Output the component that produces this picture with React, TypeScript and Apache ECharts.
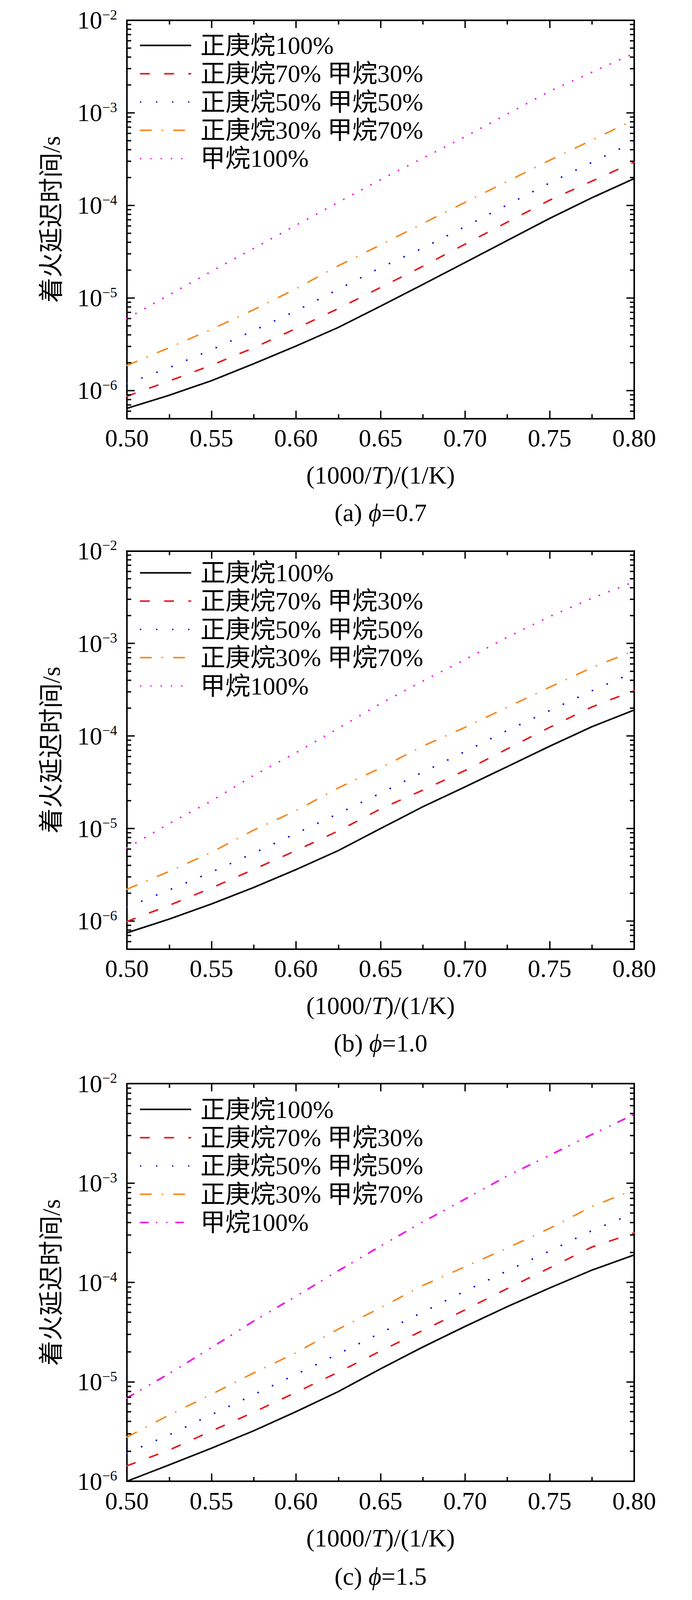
import React, { useEffect, useRef } from 'react';
import * as echarts from 'echarts';

// ---------------- data ----------------
const X13 = [0.5, 0.525, 0.55, 0.575, 0.6, 0.625, 0.65, 0.675, 0.7, 0.725, 0.75, 0.775, 0.8];
const X_A11 = [0.5, 0.525, 0.55, 0.575, 0.6, 0.625, 0.65, 0.675, 0.7, 0.75, 0.8];
const X_A_MET = [0.5, 0.525, 0.55, 0.575, 0.6, 0.625, 0.65, 0.7, 0.75, 0.8];

const SERIES_NAMES = ['正庚烷100%', '正庚烷70% 甲烷30%', '正庚烷50% 甲烷50%', '正庚烷30% 甲烷70%', '甲烷100%'];
const PANEL_KEYS = ['a', 'b', 'c'];
const PHI_VALUES = ['0.7', '1.0', '1.5'];

const X_MIN = 0.5;
const X_MAX = 0.8;
const X_INTERVAL = 0.05;
const Y_MINS = [5e-7, 5e-7, 1e-6];
const Y_MAX = 1e-2;

// panel (a) phi = 0.7
const A_HEP100 = [6.43e-7, 8.9e-7, 1.28e-6, 1.95e-6, 3.03e-6, 4.81e-6, 8.17e-6, 1.4e-5, 2.42e-5, 4.19e-5, 7.24e-5, 1.21e-4, 1.95e-4];
const A_HEP70 = [8.7e-7, 1.27e-6, 1.88e-6, 2.9e-6, 4.68e-6, 7.69e-6, 1.3e-5, 2.2e-5, 3.82e-5, 1.14e-4, 2.94e-4];
const A_HEP50 = [1.19e-6, 1.77e-6, 2.76e-6, 4.45e-6, 7.26e-6, 1.24e-5, 2.13e-5, 3.46e-5, 5.9e-5, 1.75e-4, 4.86e-4];
const A_HEP30 = [1.87e-6, 2.91e-6, 4.59e-6, 7.48e-6, 1.26e-5, 2.23e-5, 3.75e-5, 6.39e-5, 1.08e-4, 3.07e-4, 8.4e-4];
const A_MET100 = [6.01e-6, 1.08e-5, 1.94e-5, 3.44e-5, 6.11e-5, 1.08e-4, 1.9e-4, 5.52e-4, 1.71e-3, 4.4e-3];

// panel (b) phi = 1.0
const B_HEP100 = [7.47e-7, 1.05e-6, 1.53e-6, 2.31e-6, 3.6e-6, 5.78e-6, 1.0e-5, 1.72e-5, 2.82e-5, 4.67e-5, 7.75e-5, 1.26e-4, 1.91e-4];
const B_HEP70 = [9.9e-7, 1.48e-6, 2.28e-6, 3.62e-6, 5.78e-6, 9.42e-6, 1.63e-5, 2.6e-5, 4.24e-5, 7.27e-5, 1.24e-4, 2.06e-4, 3.1e-4];
const B_HEP50 = [1.41e-6, 2.17e-6, 3.38e-6, 5.43e-6, 8.85e-6, 1.45e-5, 2.41e-5, 4.07e-5, 6.8e-5, 1.15e-4, 1.88e-4, 3.08e-4, 4.89e-4];
const B_HEP30 = [2.21e-6, 3.44e-6, 5.54e-6, 9.62e-6, 1.56e-5, 2.75e-5, 4.51e-5, 7.78e-5, 1.24e-4, 2.05e-4, 3.37e-4, 5.48e-4, 8.37e-4];
const B_MET100 = [6.17e-6, 1.13e-5, 1.99e-5, 3.75e-5, 6.6e-5, 1.21e-4, 2.24e-4, 3.92e-4, 6.71e-4, 1.17e-3, 1.95e-3, 3.08e-3, 4.64e-3];

// panel (c) phi = 1.5
const C_HEP100 = [1.0e-6, 1.46e-6, 2.15e-6, 3.22e-6, 5.01e-6, 7.98e-6, 1.35e-5, 2.24e-5, 3.61e-5, 5.71e-5, 8.79e-5, 1.33e-4, 1.89e-4];
const C_HEP70 = [1.43e-6, 2.06e-6, 3.2e-6, 4.95e-6, 7.84e-6, 1.25e-5, 2.04e-5, 3.29e-5, 5.3e-5, 8.69e-5, 1.4e-4, 2.27e-4, 3.15e-4];
const C_HEP50 = [1.92e-6, 2.93e-6, 4.67e-6, 7.43e-6, 1.19e-5, 1.91e-5, 3.1e-5, 5.03e-5, 8.19e-5, 1.31e-4, 2.07e-4, 3.32e-4, 4.98e-4];
const C_HEP30 = [2.78e-6, 4.64e-6, 7.48e-6, 1.23e-5, 1.96e-5, 3.39e-5, 5.56e-5, 9.32e-5, 1.44e-4, 2.22e-4, 3.5e-4, 5.81e-4, 8.55e-4];
const C_MET100 = [6.89e-6, 1.21e-5, 2.21e-5, 4.09e-5, 7.25e-5, 1.31e-4, 2.32e-4, 4.06e-4, 6.89e-4, 1.18e-3, 1.9e-3, 3.08e-3, 4.9e-3];

const PANELS = [
  [[X13, A_HEP100], [X_A11, A_HEP70], [X_A11, A_HEP50], [X_A11, A_HEP30], [X_A_MET, A_MET100]],
  [[X13, B_HEP100], [X13, B_HEP70], [X13, B_HEP50], [X13, B_HEP30], [X13, B_MET100]],
  [[X13, C_HEP100], [X13, C_HEP70], [X13, C_HEP50], [X13, C_HEP30], [X13, C_MET100]],
];

// ---------------- layout & styles ----------------
const FONT = "'Liberation Serif', 'Times New Roman', 'Noto Sans CJK SC', serif";
const GRID_LEFT = 325;
const GRID_WIDTH = 1299;
const GRID_TOPS = [51.8, 1410.3, 2774];
const GRID_HEIGHTS = [1019.5, 1019, 1018];
const LEGEND_TOPS = [84.3, 1434.4, 2808];
const CAPTION_YS = [1312.8, 2670.3, 4035.8];

const COLORS = ['#000000', '#e6191e', '#0f14dc', '#f7891f', '#f01ee6'];
const WIDTHS = [4, 4, 4.5, 4, 4.5];
const DASHES: any[] = ['solid', [22, 40], [0.1, 41], [27, 28.5, 0.1, 29.5], [0.1, 26.3]];
const DASH_MET_C = [19, 22, 0.1, 26, 0.1, 23];

function minorValues(min: number, max: number): number[] {
  const out: number[] = [];
  const e0 = Math.floor(Math.log10(min));
  const e1 = Math.floor(Math.log10(max));
  for (let e = e0; e <= e1; e++) {
    for (let k = 2; k <= 9; k++) {
      const v = k * Math.pow(10, e);
      if (v > min * 1.0001 && v < max * 0.9999) out.push(v);
    }
  }
  return out;
}

function yLabel(v: number): string {
  const e = Math.log10(v);
  const r = Math.round(e);
  if (Math.abs(e - r) > 1e-6) return '';
  return `{b|10}{s|\u2212${-r}}`;
}

function buildOption() {
  const grid: any[] = [];
  const xAxis: any[] = [];
  const yAxis: any[] = [];
  const series: any[] = [];
  const legend: any[] = [];
  const graphic: any[] = [];

  const tickStyle = { color: '#000', width: 3.5 };
  const axisLine = { show: true, onZero: false, lineStyle: { color: '#000', width: 4 } };

  PANEL_KEYS.forEach((key, p) => {
    grid.push({ left: GRID_LEFT, top: GRID_TOPS[p], width: GRID_WIDTH, height: GRID_HEIGHTS[p], containLabel: false });

    const xBase = {
      type: 'value', gridIndex: p, min: X_MIN, max: X_MAX, interval: X_INTERVAL,
      axisLine, splitLine: { show: false },
      axisTick: { show: true, inside: true, length: 20, lineStyle: tickStyle },
      minorTick: { show: true, splitNumber: 2, length: 11, lineStyle: tickStyle },
      minorSplitLine: { show: false },
    };
    xAxis.push({
      ...xBase, position: 'bottom',
      axisLabel: { show: true, margin: 18, color: '#000', fontSize: 64, fontFamily: FONT, formatter: (v: number) => v.toFixed(2) },
      name: '{n|(1000/}{i|T}{n|)/(1/K)}',
      nameLocation: 'middle', nameGap: 113,
      nameTextStyle: {
        color: '#000', fontSize: 64, fontFamily: FONT,
        rich: {
          n: { fontSize: 64, fontFamily: FONT, color: '#000' },
          i: { fontSize: 64, fontFamily: FONT, fontStyle: 'italic', color: '#000' },
        },
      },
    });
    xAxis.push({ ...xBase, position: 'top', axisLabel: { show: false } });

    const yBase = {
      type: 'log', logBase: 10, gridIndex: p, min: Y_MINS[p], max: Y_MAX,
      axisLine, splitLine: { show: false },
      axisTick: { show: true, inside: true, length: 20, lineStyle: tickStyle },
    };
    yAxis.push({
      ...yBase, position: 'left',
      axisLabel: {
        show: true, margin: 25, color: '#000', formatter: yLabel, showMaxLabel: true,
        rich: {
          b: { fontSize: 64, lineHeight: 64, fontFamily: FONT, color: '#000' },
          s: { fontSize: 36, lineHeight: 36, fontFamily: FONT, color: '#000', verticalAlign: 'top' },
        },
      },
      name: '着火延迟时间/s', nameLocation: 'middle', nameGap: 162, nameRotate: 90,
      nameTextStyle: { color: '#000', fontSize: 64, fontFamily: FONT },
    });
    yAxis.push({ ...yBase, position: 'right', axisLabel: { show: false } });

    const names: string[] = [];
    PANELS[p].forEach(([xs, vals], s) => {
      const nm = `${key}#${SERIES_NAMES[s]}`;
      names.push(nm);
      const dash = p === 2 && s === 4 ? DASH_MET_C : DASHES[s];
      series.push({
        type: 'line', name: nm, xAxisIndex: 2 * p, yAxisIndex: 2 * p,
        data: (xs as number[]).map((x, i) => [x, (vals as number[])[i]]),
        symbol: 'none', showSymbol: false, smooth: false, silent: true,
        lineStyle: { color: COLORS[s], width: WIDTHS[s], type: dash, cap: 'round', join: 'round' },
        itemStyle: { color: COLORS[s] },
        z: 2,
      });
    });

    // minor ticks (2..9 per decade) on the log axes, left and right
    series.push({
      type: 'custom', xAxisIndex: 2 * p, yAxisIndex: 2 * p, silent: true, clip: false, z: 3,
      data: minorValues(Y_MINS[p], Y_MAX).map((v) => [X_MIN, v]),
      renderItem: (_params: any, api: any) => {
        const v = api.value(1);
        const l = api.coord([X_MIN, v]);
        const r = api.coord([X_MAX, v]);
        return {
          type: 'group',
          children: [
            { type: 'line', shape: { x1: l[0], y1: l[1], x2: l[0] + 11, y2: l[1] }, style: { stroke: '#000', lineWidth: 3.5 } },
            { type: 'line', shape: { x1: r[0] - 11, y1: r[1], x2: r[0], y2: r[1] }, style: { stroke: '#000', lineWidth: 3.5 } },
          ],
        };
      },
    });

    legend.push({
      data: names, orient: 'vertical', left: 358, top: LEGEND_TOPS[p], padding: 0,
      itemWidth: 128, itemHeight: 14, itemGap: 8.4, selectedMode: false,
      formatter: (n: string) => n.split('#')[1],
      lineStyle: { width: 4 },
      itemStyle: { color: 'rgba(0,0,0,0)', borderWidth: 0, opacity: 0 },
      textStyle: { color: '#000', fontSize: 64, lineHeight: 64, fontFamily: FONT, padding: [0, 0, 0, 20] },
    });

    graphic.push({
      type: 'text', x: GRID_LEFT + GRID_WIDTH / 2, y: CAPTION_YS[p], silent: true,
      style: {
        text: `{n|(${key}) }{i|\u03D5}{n|=${PHI_VALUES[p]}}`,
        align: 'center', verticalAlign: 'middle',
        rich: {
          n: { fontSize: 64, fontFamily: FONT, fill: '#000' },
          i: { fontSize: 64, fontFamily: FONT, fontStyle: 'italic', fill: '#000' },
        },
      },
    });
  });

  return { animation: false, backgroundColor: '#fff', grid, xAxis, yAxis, series, legend, graphic };
}

export default function App() {
  const ref = useRef<HTMLDivElement>(null);
  useEffect(() => {
    if (!ref.current) return;
    const chart = echarts.init(ref.current, undefined, { renderer: 'svg' });
    chart.setOption(buildOption() as any);
    return () => chart.dispose();
  }, []);
  return <div ref={ref} style={{ position: 'absolute', left: 0, top: 0, width: 1772, height: 4362 }} />;
}
